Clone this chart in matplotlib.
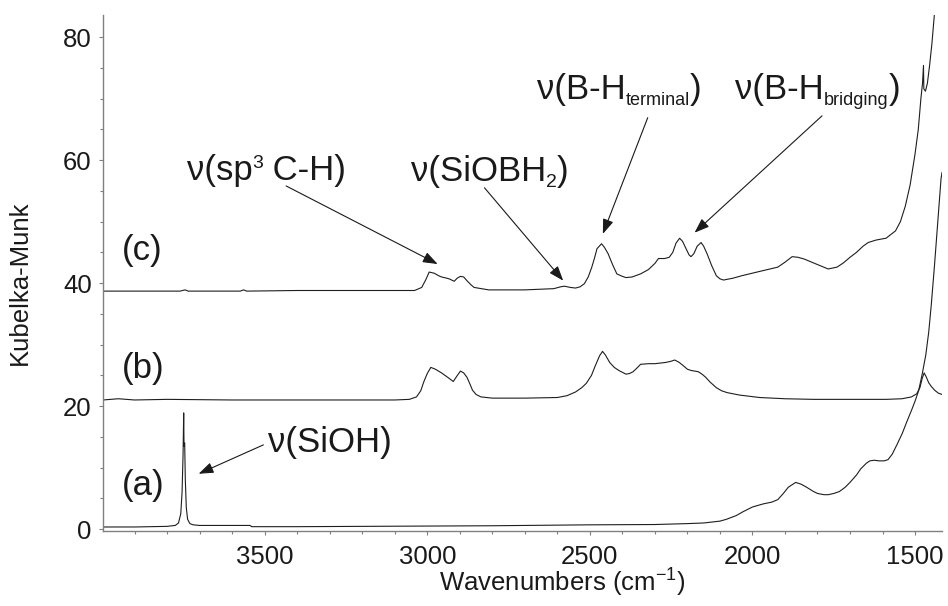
import matplotlib
matplotlib.use('Agg')
import matplotlib.pyplot as plt
from matplotlib.ticker import MultipleLocator
import matplotlib.transforms as mtransforms

plt.rcParams['font.family'] = ['Liberation Sans', 'DejaVu Sans']
plt.rcParams['mathtext.default'] = 'regular'

# ---------------- data (wavenumber cm-1, Kubelka-Munk) ----------------
wn_a = [3997, 3900, 3850, 3800, 3775, 3765, 3758, 3754, 3751, 3749, 3748, 3746, 3744, 3741,
        3737, 3730, 3720, 3700, 3600, 3545, 3540, 3400, 3000, 2800, 2500, 2300, 2200, 2150,
        2100, 2080, 2050, 2030, 2000, 1967, 1940, 1922, 1905, 1890, 1867, 1850, 1833, 1815,
        1800, 1780, 1767, 1750, 1733, 1715, 1700, 1680, 1667, 1650, 1639, 1625, 1611, 1595,
        1583, 1570, 1555, 1539, 1525, 1511, 1500, 1489, 1478, 1467, 1458, 1450, 1440, 1430,
        1420, 1417]
km_a = [0.35, 0.35, 0.4, 0.45, 0.6, 1.0, 2.5, 6.0, 12.0, 18.9, 13.5, 14.0, 8.0, 3.5,
        1.6, 0.9, 0.7, 0.6, 0.6, 0.6, 0.4, 0.4, 0.5, 0.55, 0.7, 0.75, 0.9, 1.0,
        1.3, 1.6, 2.2, 2.8, 3.6, 4.1, 4.4, 4.8, 5.8, 6.8, 7.6, 7.3, 6.8, 6.2,
        5.8, 5.6, 5.6, 5.8, 6.1, 6.8, 7.6, 8.8, 9.8, 10.7, 11.1, 11.2, 11.1, 11.1,
        11.3, 12.2, 13.8, 15.6, 17.5, 19.3, 20.8, 22.5, 25.2, 28.3, 32.0, 36.5, 43.0, 50.0,
        57.0, 58.0]

wn_b = [3997, 3950, 3900, 3800, 3600, 3400, 3200, 3100, 3055, 3033, 3020, 3011, 3000, 2989,
        2975, 2956, 2935, 2920, 2910, 2898, 2888, 2878, 2868, 2861, 2850, 2835, 2800, 2700,
        2600, 2570, 2544, 2525, 2511, 2495, 2483, 2470, 2461, 2452, 2439, 2425, 2411, 2389,
        2378, 2367, 2355, 2344, 2320, 2300, 2267, 2250, 2239, 2225, 2211, 2200, 2189, 2167,
        2155, 2144, 2130, 2111, 2095, 2078, 2040, 1978, 1900, 1811, 1700, 1589, 1540, 1511,
        1495, 1485, 1478, 1472, 1466, 1458, 1450, 1440, 1428, 1417]
km_b = [21.0, 21.2, 21.0, 21.1, 21.0, 21.0, 21.0, 21.0, 21.1, 21.5, 22.5, 23.9, 25.3, 26.3,
        26.0, 25.4, 24.6, 24.0, 24.8, 25.7, 25.4, 24.7, 23.5, 22.6, 21.9, 21.5, 21.3, 21.3,
        21.4, 21.7, 22.3, 23.0, 23.7, 25.0, 26.6, 28.2, 28.9, 28.3, 27.1, 26.3, 25.8, 25.2,
        25.3, 25.6, 26.2, 26.8, 26.9, 26.9, 27.1, 27.3, 27.5, 27.1, 26.5, 26.0, 25.8, 25.6,
        25.2, 24.7, 23.9, 23.0, 22.5, 22.2, 21.8, 21.4, 21.2, 21.1, 21.1, 21.1, 21.2, 21.5,
        22.0, 23.0, 24.5, 25.4, 24.8, 23.8, 23.2, 22.6, 22.1, 21.9]

wn_c = [3997, 3900, 3760, 3745, 3735, 3575, 3565, 3555, 3400, 3200, 3100, 3039, 3017, 3005,
        2994, 2978, 2965, 2956, 2940, 2933, 2917, 2908, 2898, 2888, 2878, 2865, 2856, 2811,
        2700, 2611, 2590, 2578, 2560, 2544, 2530, 2517, 2505, 2494, 2485, 2478, 2464, 2455,
        2444, 2430, 2417, 2400, 2389, 2370, 2344, 2320, 2300, 2289, 2270, 2256, 2245, 2235,
        2224, 2215, 2206, 2195, 2189, 2180, 2170, 2158, 2150, 2139, 2125, 2111, 2100, 2089,
        2060, 2033, 1978, 1922, 1900, 1878, 1860, 1840, 1822, 1790, 1767, 1740, 1720, 1700,
        1680, 1660, 1644, 1620, 1600, 1589, 1560, 1545, 1530, 1515, 1500, 1490, 1482, 1477,
        1474, 1473, 1468, 1462, 1455, 1448, 1440, 1434]
km_c = [38.7, 38.7, 38.7, 38.9, 38.7, 38.7, 38.9, 38.7, 38.8, 38.8, 38.8, 38.8, 39.3, 40.5,
        41.8, 41.6, 41.2, 41.0, 40.8, 40.7, 40.3, 40.8, 41.1, 41.0, 40.4, 39.7, 39.3, 38.9,
        38.9, 39.1, 39.4, 39.5, 39.3, 39.2, 39.4, 39.9, 41.0, 42.6, 44.2, 45.6, 46.4, 45.8,
        44.8, 43.0, 41.5, 41.1, 40.9, 41.0, 41.5, 42.2, 43.2, 44.0, 44.0, 44.2, 45.0, 46.5,
        47.3, 46.8, 45.8, 44.6, 44.3, 44.8, 46.0, 46.6, 46.0, 44.7, 42.8, 41.2, 40.7, 40.5,
        40.8, 41.2, 41.9, 42.6, 43.4, 44.3, 44.2, 43.9, 43.5, 42.8, 42.3, 42.6, 43.3, 44.2,
        45.0, 46.0, 46.6, 47.0, 47.2, 47.3, 48.5, 50.0, 52.5, 56.0, 61.0, 65.0, 70.0, 72.5,
        75.4, 71.6, 71.2, 72.5, 75.5, 79.0, 84.0, 86.0]

series_labels = ['(a)', '(b)', '(c)']
label_pos = [(3939, 5.6), (3939, 24.5), (3939, 43.7)]

x_ticks = [3500, 3000, 2500, 2000, 1500]
y_ticks = [0, 20, 40, 60, 80]

# annotations: (text parts, text anchor (wn, km), arrow tail, arrow head)
annotations = [
    ([("ν(SiOH)", 25, 0)], (3489, 12.5), (3504, 13.7), (3703, 9.0)),
    ([("ν(sp", 25, 0), ("3", 14, 8.5), (" C-H)", 25, 0)], (3740, 56.8), (3434, 55.8), (2968, 43.1)),
    ([("ν(SiOBH", 25, 0), ("2", 14, -4.5), (")", 25, 0)], (3051, 56.6), (2824, 55.5), (2582, 40.4)),
    ([("ν(B-H", 25, 0), ("terminal", 13, -4.5), (")", 25, 0)], (2662, 69.9), (2322, 66.9), (2460, 48.0)),
    ([("ν(B-H", 25, 0), ("bridging", 13, -4.5), (")", 25, 0)], (2053, 69.9), (1786, 67.2), (2178, 48.2)),
]

# ---------------- figure ----------------
fig = plt.figure(figsize=(9.48, 6.06), dpi=100)
ax = fig.add_axes([0.1087, 0.1238, 0.8850, 0.8515])

line_color = '#1e1e1e'
for wn, km in [(wn_a, km_a), (wn_b, km_b), (wn_c, km_c)]:
    ax.plot(wn, km, color=line_color, lw=0.8)

ax.set_xlim(3997, 1417)
ax.set_ylim(-0.3, 83.6)

for s in ['top', 'right']:
    ax.spines[s].set_visible(False)
for s in ['left', 'bottom']:
    ax.spines[s].set_color('#808080')
    ax.spines[s].set_linewidth(1.0)

ax.set_xticks(x_ticks)
ax.set_yticks(y_ticks)
ax.xaxis.set_minor_locator(MultipleLocator(100))
ax.yaxis.set_minor_locator(MultipleLocator(5))
ax.tick_params(which='both', direction='out', color='#808080', width=0.8,
               labelsize=18.5, labelcolor='#1a1a1a')
ax.tick_params(which='major', length=3.2)
ax.tick_params(which='minor', length=2.4)
ax.tick_params(axis='x', which='major', pad=7)
ax.tick_params(axis='y', which='major', pad=5)

ax.set_xlabel('Wavenumbers (cm$^{-1}$)', fontsize=18.5, color='#1a1a1a')
ax.set_ylabel('Kubelka-Munk', fontsize=18.5, color='#1a1a1a')
ax.xaxis.set_label_coords(0.547, -0.070)
ax.yaxis.set_label_coords(-0.0846, 0.481)

for lab, (x, y) in zip(series_labels, label_pos):
    ax.text(x, y, lab, fontsize=25, ha='left', va='baseline', color='#1a1a1a')

renderer = fig.canvas.get_renderer()


def rich_text(x, y, parts):
    dx = 0.0
    for s, size, dy in parts:
        tr = mtransforms.offset_copy(ax.transData, fig=fig, x=dx, y=dy, units='points')
        t = ax.text(x, y, s, fontsize=size, ha='left', va='baseline',
                    transform=tr, color='#1a1a1a')
        bb = t.get_window_extent(renderer)
        dx += bb.width * 72.0 / fig.dpi


for parts, pos, tail, head in annotations:
    rich_text(pos[0], pos[1], parts)
    ax.annotate('', xy=head, xytext=tail,
                arrowprops=dict(arrowstyle='-|>,head_length=0.6,head_width=0.22',
                                mutation_scale=15, lw=0.8, color='#1a1a1a',
                                shrinkA=0, shrinkB=0))

fig.savefig('out.png', dpi=100)
